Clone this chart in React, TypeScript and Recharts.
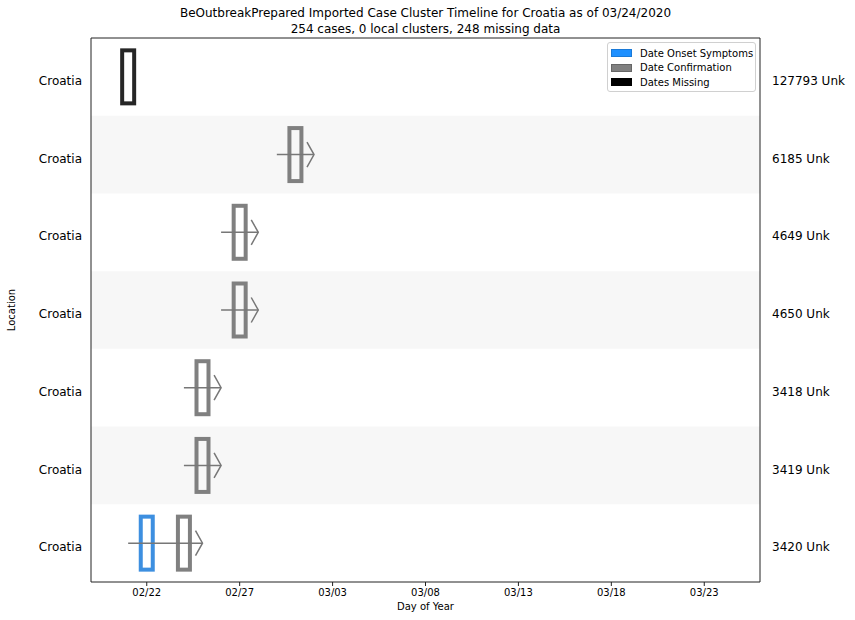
import React from "react";
import {
  ComposedChart,
  Label,
  ReferenceArea,
  ReferenceLine,
  Scatter,
  XAxis,
  YAxis,
} from "recharts";

// rows top -> bottom
const rowLabels = ["Croatia", "Croatia", "Croatia", "Croatia", "Croatia", "Croatia", "Croatia"];
const caseIds = ["127793", "6185", "4649", "4650", "3418", "3419", "3420"];
const onsetDates = [null, null, null, null, null, null, "02/22"];
const confirmDates = [null, "03/01", "02/27", "02/27", "02/25", "02/25", "02/24"];
const missingDates = ["02/21", null, null, null, null, null, null];
const xTickLabels = ["02/22", "02/27", "03/03", "03/08", "03/13", "03/18", "03/23"];

const FONT = "'DejaVu Sans', sans-serif";

// days from 02/22/2020
const dayOf = (md: string) => {
  const [m, d] = md.split("/").map(Number);
  return (Date.UTC(2020, m - 1, d) - Date.UTC(2020, 1, 22)) / 86400000;
};

const xMin = dayOf("02/19");
const xMax = dayOf("03/26");
const xTicks = xTickLabels.map(dayOf);
const rowTicks = rowLabels.map((_, i) => i + 0.5);

const toPoints = (dates: (string | null)[]) =>
  dates
    .map((d, i) => (d ? { x: dayOf(d), y: i + 0.5 } : null))
    .filter(Boolean) as { x: number; y: number }[];

const onsetPoints = toPoints(onsetDates);
const confirmPoints = toPoints(confirmDates);
const missingPoints = toPoints(missingDates);

// arrow from a day before the first known date to a day after confirmation
const arrows = confirmDates
  .map((c, i) => {
    if (!c) return null;
    const start = onsetDates[i] ?? c;
    return [
      { x: dayOf(start) - 1, y: i + 0.5, head: false },
      { x: dayOf(c) + 1, y: i + 0.5, head: true },
    ];
  })
  .filter(Boolean) as { x: number; y: number; head: boolean }[][];

const boxShape = (color: string) => (props: any) => {
  const { cx, cy } = props;
  return (
    <rect
      x={cx - 6}
      y={cy - 26.5}
      width={12}
      height={53}
      fill="none"
      stroke={color}
      strokeWidth={4}
    />
  );
};

const arrowHead = (props: any) => {
  const { cx, cy, payload } = props;
  if (!payload.head) return <g />;
  return (
    <polyline
      points={`${cx - 7},${cy - 12.5} ${cx},${cy} ${cx - 7},${cy + 12.5}`}
      fill="none"
      stroke="#777"
      strokeWidth={1.5}
    />
  );
};

const rowTick = (side: "left" | "right") => (props: any) => {
  const { x, y, payload } = props;
  const i = Math.floor(payload.value);
  return (
    <text
      x={x}
      y={y + 4}
      dy="0.35em"
      textAnchor={side === "left" ? "end" : "start"}
      fontSize={12}
      fontFamily={FONT}
      fill="#000"
    >
      {side === "left" ? rowLabels[i] : `${caseIds[i]} Unk`}
    </text>
  );
};

const legendItems = [
  { name: "Date Onset Symptoms", fill: "#1e90ff", stroke: "#1a7ad8" },
  { name: "Date Confirmation", fill: "#808080", stroke: "#666" },
  { name: "Dates Missing", fill: "#000", stroke: "#000" },
];

export default function App() {
  return (
    <div
      style={{
        position: "absolute",
        left: 0,
        top: 0,
        width: 855,
        height: 620,
        background: "#fff",
        fontFamily: FONT,
      }}
    >
      <div
        style={{
          position: "absolute",
          left: 91,
          width: 669,
          top: 5,
          textAlign: "center",
          fontSize: 12,
          lineHeight: "16px",
          color: "#000",
        }}
      >
        BeOutbreakPrepared Imported Case Cluster Timeline for Croatia as of 03/24/2020
        <br />
        254 cases, 0 local clusters, 248 missing data
      </div>
      <ComposedChart
        width={855}
        height={620}
        margin={{ top: 38, right: 0, bottom: 0, left: 0 }}
      >
        {rowLabels.map((_, i) =>
          i % 2 === 1 ? (
            <ReferenceArea
              key={i}
              yAxisId="left"
              x1={xMin}
              x2={xMax}
              y1={i}
              y2={i + 1}
              fill="#f7f7f7"
              fillOpacity={1}
              stroke="none"
            />
          ) : null
        )}
        <XAxis
          type="number"
          dataKey="x"
          domain={[xMin, xMax]}
          ticks={xTicks}
          tickFormatter={(v) => xTickLabels[xTicks.indexOf(v)] ?? ""}
          height={38}
          allowDataOverflow
          stroke="#222"
          tick={{ fill: "#000", fontSize: 10, fontFamily: FONT }}
          tickSize={4}
          tickMargin={3}
        >
          <Label
            content={({ viewBox }: any) => (
              <text
                x={viewBox.x + viewBox.width / 2}
                y={viewBox.y + 28}
                textAnchor="middle"
                fontSize={10}
                fontFamily={FONT}
                fill="#000"
              >
                Day of Year
              </text>
            )}
          />
        </XAxis>
        <YAxis
          yAxisId="left"
          type="number"
          dataKey="y"
          domain={[0, 7]}
          reversed
          ticks={rowTicks}
          width={91}
          stroke="#222"
          tickLine={false}
          tickSize={6}
          tickMargin={3}
          tick={rowTick("left")}
        >
          <Label
            content={({ viewBox }: any) => (
              <text
                x={15}
                y={viewBox.y + viewBox.height / 2}
                transform={`rotate(-90, 15, ${viewBox.y + viewBox.height / 2})`}
                textAnchor="middle"
                fontSize={10}
                fontFamily={FONT}
                fill="#000"
              >
                Location
              </text>
            )}
          />
        </YAxis>
        <YAxis
          yAxisId="right"
          orientation="right"
          type="number"
          dataKey="y"
          domain={[0, 7]}
          reversed
          ticks={rowTicks}
          width={95}
          stroke="#222"
          tickLine={false}
          tickSize={6}
          tickMargin={6}
          tick={rowTick("right")}
        />
        <ReferenceLine yAxisId="left" y={0} stroke="#222" />
        <Scatter
          yAxisId="left"
          name="Date Onset Symptoms"
          data={onsetPoints}
          shape={boxShape("#3d8fe0")}
          isAnimationActive={false}
        />
        <Scatter
          yAxisId="left"
          name="Date Confirmation"
          data={confirmPoints}
          shape={boxShape("#808080")}
          isAnimationActive={false}
        />
        <Scatter
          yAxisId="left"
          name="Dates Missing"
          data={missingPoints}
          shape={boxShape("#262626")}
          isAnimationActive={false}
        />
        {/* invisible series so the right-hand case-id axis gets ticks */}
        <Scatter
          yAxisId="right"
          data={missingPoints}
          shape={() => <g />}
          isAnimationActive={false}
        />
        {arrows.map((pts, k) => (
          <Scatter
            key={`arrow-${k}`}
            yAxisId="left"
            data={pts}
            line={{ stroke: "#777", strokeWidth: 1.5 }}
            shape={arrowHead}
            isAnimationActive={false}
          />
        ))}
      </ComposedChart>
      <div
        style={{
          position: "absolute",
          left: 607,
          top: 42,
          width: 147,
          height: 48,
          border: "1px solid #d0d0d0",
          borderRadius: 3,
          background: "rgba(255,255,255,0.8)",
          fontSize: 10,
          color: "#000",
        }}
      >
        {legendItems.map((it, i) => (
          <div
            key={it.name}
            style={{
              position: "absolute",
              left: 3,
              top: 4 + i * 14.5,
              height: 12,
              display: "flex",
              alignItems: "center",
              whiteSpace: "nowrap",
            }}
          >
            <span
              style={{
                display: "inline-block",
                width: 19,
                height: 6,
                background: it.fill,
                border: `1px solid ${it.stroke}`,
                marginRight: 8,
              }}
            />
            {it.name}
          </div>
        ))}
      </div>
    </div>
  );
}
